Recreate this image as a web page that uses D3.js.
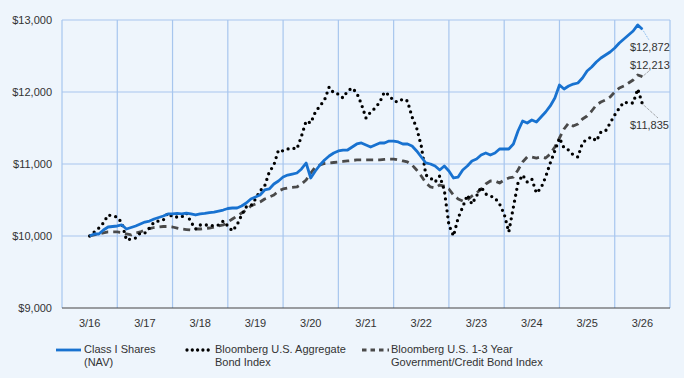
<!DOCTYPE html>
<html>
<head>
<meta charset="utf-8">
<script src="https://cdn.jsdelivr.net/npm/d3@7"></script>
<style>
  body { margin: 0; background: #eef5fc; }
  svg { display: block; font-family: Arial, "Liberation Sans", sans-serif; }
</style>
</head>
<body>
<svg id="chart" width="684" height="378"></svg>
<script>
// tick labels, one per March
var tickLabels = ["3/16","3/17","3/18","3/19","3/20","3/21","3/22","3/23","3/24","3/25","3/26"]
var yTicks = [9000, 10000, 11000, 12000, 13000]

// monthly values, 3/16 .. 3/26
var classI = [10000,10028,10028,10083,10125,10132,10139,10153,10097,10118,10139,10167,
  10194,10208,10236,10257,10278,10306,10306,10313,10306,10319,10306,10292,
  10306,10313,10326,10333,10347,10361,10382,10389,10389,10417,10458,10514,
  10542,10569,10639,10653,10722,10764,10819,10847,10861,10875,10931,11014,
  10806,10903,10986,11056,11111,11153,11181,11194,11194,11236,11278,11292,
  11264,11236,11264,11292,11292,11319,11319,11306,11278,11278,11250,11181,
  11097,11014,11000,10972,10917,10972,10903,10806,10819,10917,10972,11042,
  11069,11125,11153,11125,11153,11208,11208,11208,11278,11458,11597,11569,
  11611,11583,11653,11722,11806,11917,12097,12042,12083,12111,12125,12194,
  12292,12347,12417,12472,12514,12556,12611,12681,12736,12792,12847,12931,
  12872]

var aggregate = [10000,10056,10111,10181,10292,10278,10264,10181,9944,9958,9972,10042,
  10042,10111,10194,10208,10222,10319,10264,10264,10264,10319,10194,10097,
  10153,10153,10153,10139,10153,10208,10139,10069,10153,10292,10403,10417,
  10514,10625,10694,10889,10986,11194,11181,11208,11222,11208,11389,11597,
  11569,11722,11806,11889,12069,11986,11972,11917,12014,12056,11986,11833,
  11639,11722,11778,11861,12000,11958,11875,11861,11903,11875,11653,11500,
  11250,10847,10806,10750,10833,10639,10153,10000,10250,10403,10569,10444,
  10556,10681,10583,10556,10528,10444,10306,10056,10403,10736,10847,10750,
  10792,10597,10667,10819,11014,11181,11361,11222,11194,11125,11097,11292,
  11347,11375,11319,11444,11458,11569,11681,11778,11861,11847,11847,12042,
  11835]

var shortTerm = [10000,10014,10028,10042,10056,10056,10056,10049,10028,10014,10042,10056,
  10083,10104,10118,10125,10132,10132,10125,10111,10097,10090,10083,10097,
  10097,10104,10111,10125,10139,10153,10194,10236,10278,10319,10361,10417,
  10444,10472,10514,10542,10569,10625,10653,10667,10674,10681,10722,10778,
  10875,10958,10986,11007,11014,11021,11028,11035,11042,11049,11056,11056,
  11056,11056,11056,11056,11063,11069,11069,11056,11042,11028,10986,10917,
  10833,10736,10681,10667,10708,10694,10653,10569,10514,10486,10500,10556,
  10597,10653,10722,10764,10764,10736,10778,10806,10819,10917,11028,11097,
  11097,11083,11097,11083,11139,11236,11361,11486,11569,11528,11556,11625,
  11667,11736,11819,11861,11889,11931,12000,12056,12083,12125,12167,12236,
  12213]

var series = [
  { name: "Class I Shares", sub: "(NAV)", values: classI, color: "#1872d0", width: 2.8, dash: null, cap: "butt", label: "$12,872" },
  { name: "Bloomberg U.S. Aggregate", sub: "Bond Index", values: aggregate, color: "#000", width: 3.3, dash: "0,6", cap: "round", label: "$11,835" },
  { name: "Bloomberg U.S. 1-3 Year", sub: "Government/Credit Bond Index", values: shortTerm, color: "#4a4a4a", width: 2.8, dash: "7,5", cap: "butt", label: "$12,213" }
]

var svg = d3.select("#chart")
var W = +svg.attr("width"), H = +svg.attr("height")
var plotL = 62, plotR = 670, plotT = 20, plotB = 308
var txt = "#333"

svg.append("rect").attr("width", W).attr("height", H).attr("fill", "#eef5fc")

// month index: 0 = 3/16, plot runs from 6 months before to 6 months after
var x = d3.scaleLinear().domain([-6, 126]).range([plotL, plotR])
var y = d3.scaleLinear().domain([9000, 13000]).range([plotB, plotT])

var grid = svg.append("g").attr("stroke", "#a7c6ee").attr("stroke-width", 1.2)
grid.selectAll("line.h").data(yTicks.slice(1)).enter().append("line")
  .attr("x1", plotL).attr("x2", plotR)
  .attr("y1", function(d) { return y(d) }).attr("y2", function(d) { return y(d) })
grid.selectAll("line.v").data(d3.range(-6, 127, 12)).enter().append("line")
  .attr("y1", plotT).attr("y2", plotB)
  .attr("x1", function(d) { return x(d) }).attr("x2", function(d) { return x(d) })

svg.append("line").attr("x1", plotL).attr("x2", plotR).attr("y1", plotB).attr("y2", plotB)
  .attr("stroke", "#444").attr("stroke-width", 1.2)

svg.append("g").selectAll("text").data(yTicks).enter().append("text")
  .attr("x", plotL - 10).attr("y", function(d) { return y(d) + 4 })
  .attr("text-anchor", "end").attr("font-size", 11).attr("fill", txt)
  .text(function(d) { return "$" + d3.format(",")(d) })

svg.append("g").selectAll("text").data(tickLabels).enter().append("text")
  .attr("x", function(d, i) { return x(i * 12) }).attr("y", plotB + 19)
  .attr("text-anchor", "middle").attr("font-size", 11).attr("fill", txt)
  .text(function(d) { return d })

var line = d3.line()
  .x(function(d, i) { return x(i) })
  .y(function(d) { return y(d) })

// draw order: gray, black, blue on top
;[series[2], series[1], series[0]].forEach(function(s) {
  svg.append("path").datum(s.values)
    .attr("d", line)
    .attr("fill", "none")
    .attr("stroke", s.color)
    .attr("stroke-width", s.width)
    .attr("stroke-linecap", s.cap)
    .attr("stroke-linejoin", "round")
    .attr("stroke-dasharray", s.dash)
})

// end value labels with leader lines
var last = classI.length - 1
var ends = [
  { s: series[0], ly: 51, lx2: 649, ly2: 40 },
  { s: series[2], ly: 69, lx2: 649, ly2: 71 },
  { s: series[1], ly: 129, lx2: 658, ly2: 118 }
]
ends.forEach(function(e) {
  var ex = x(last), ey = y(e.s.values[last])
  svg.append("line").attr("x1", ex).attr("y1", ey).attr("x2", e.lx2).attr("y2", e.ly2)
    .attr("stroke", e.s === series[0] ? "#5aa0e6" : "#666")
    .attr("stroke-width", 0.8).attr("stroke-dasharray", "1,1")
  svg.append("text").attr("x", 630).attr("y", e.ly)
    .attr("font-size", 11).attr("fill", txt).text(e.s.label)
})

// legend
var legend = [
  { s: series[0], x1: 56, x2: 81, tx: 84 },
  { s: series[1], x1: 187, x2: 213, tx: 215 },
  { s: series[2], x1: 362, x2: 389, tx: 391 }
]
legend.forEach(function(l) {
  svg.append("line").attr("x1", l.x1).attr("x2", l.x2).attr("y1", 350).attr("y2", 350)
    .attr("stroke", l.s.color).attr("stroke-width", l.s.width)
    .attr("stroke-linecap", l.s.cap)
    .attr("stroke-dasharray", l.s.dash === "7,5" ? "4.5,4" : (l.s.dash ? "0,5.3" : null))
  var t = svg.append("text").attr("font-size", 11).attr("fill", txt)
  t.append("tspan").attr("x", l.tx).attr("y", 353).text(l.s.name)
  t.append("tspan").attr("x", l.tx).attr("y", 366).text(l.s.sub)
})
</script>
</body>
</html>
